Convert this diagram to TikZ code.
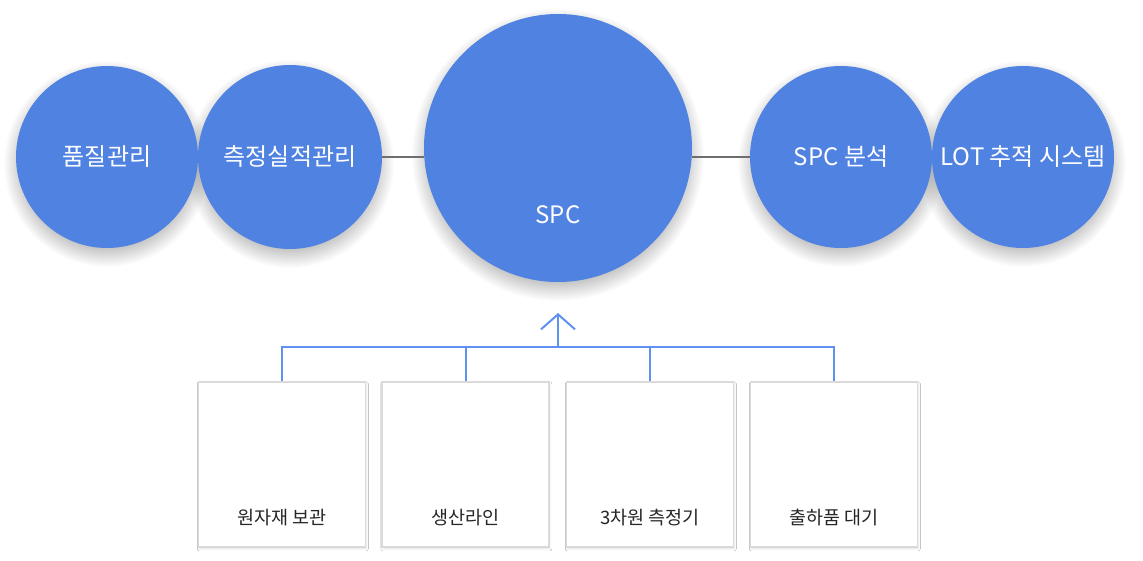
\documentclass[tikz,border=0pt]{standalone}
\usepackage{fontspec}
\setmainfont{Noto Sans CJK KR}
\usetikzlibrary{shadows.blur,arrows.meta}
\definecolor{disc}{RGB}{80,130,225}
\definecolor{wire}{RGB}{95,145,240}
\definecolor{link}{RGB}{110,110,110}
\definecolor{frame}{RGB}{218,218,218}
\tikzset{
  disc/.style={circle, fill=disc, inner sep=0pt, minimum size=#1, text=white,
    font=\fontsize{24}{28}\selectfont},
  card/.style={draw=frame, line width=1.2pt, fill=white, minimum width=167pt, minimum height=165pt,
    inner sep=0pt,
    blur shadow={shadow xshift=0.8pt, shadow yshift=-1.8pt, shadow blur radius=2pt, shadow opacity=12}},
  cardtext/.style={font=\fontsize{18.5}{22}\selectfont, text=black!85},
  tree/.style={draw=wire, line width=2pt},
  bridge/.style={draw=link, line width=2.5pt}
}
% soft drop shadow under a disc: stacked faint circles, offset downwards
\newcommand{\discshade}[2]{%
  \foreach \k in {0,...,20}
    \fill[black, fill opacity=0.011] ([yshift=-7pt]#1) circle ({#2-8+\k});}
\begin{document}
\begin{tikzpicture}[x=1pt,y=-1pt]
\useasboundingbox (0,0) rectangle (1143,561);
\fill[white] (0,0) rectangle (1143,561);

% disc centres
\coordinate (pqc) at (107,157);
\coordinate (pms) at (290,157);
\coordinate (pspc) at (558,148);
\coordinate (pan) at (841,157);
\coordinate (plot) at (1023,157);

% shadows first, discs on top
\discshade{pqc}{91}
\discshade{pms}{92}
\discshade{pspc}{134}
\discshade{pan}{91}
\discshade{plot}{91}

\node[disc=182pt] (qc) at (pqc) {품질관리};
\node[disc=184pt] (ms) at (pms) {측정실적관리};
\node[disc=268pt] (spc) at (pspc) {};
\node[text=white, font=\fontsize{24}{28}\selectfont] (spct) at (558,215) {SPC};
\node[disc=182pt] (an) at (pan) {SPC 분석};
\node[disc=182pt] (lot) at (plot) {LOT 추적 시스템};

\draw[bridge] (ms.east |- 0,157) -- (spc.west |- 0,157);
\draw[bridge] (spc.east |- 0,157) -- (an.west |- 0,157);

% bottom row of cards
\node[card] (b1) at (282,464.5) {};
\node[card] (b2) at (465.5,464.5) {};
\node[card] (b3) at (650,464.5) {};
\node[card] (b4) at (834,464.5) {};
\node[cardtext] (t1) at (282,518) {원자재 보관};
\node[cardtext] (t2) at (465.5,518) {생산라인};
\node[cardtext] (t3) at (650,518) {3차원 측정기};
\node[cardtext] (t4) at (834,518) {출하품 대기};

% collecting tree into the centre disc
\coordinate (hub) at (558,347);
\coordinate (tip) at (558,313);
\draw[tree] (b1.north) |- (hub) -| (b4.north);
\draw[tree] (b2.north) -- (b2.north |- hub);
\draw[tree] (b3.north) -- (b3.north |- hub);
\draw[tree, -{Straight Barb[length=15pt,width=34pt,line width=2pt]}] (hub) -- (tip);
\end{tikzpicture}
\end{document}
